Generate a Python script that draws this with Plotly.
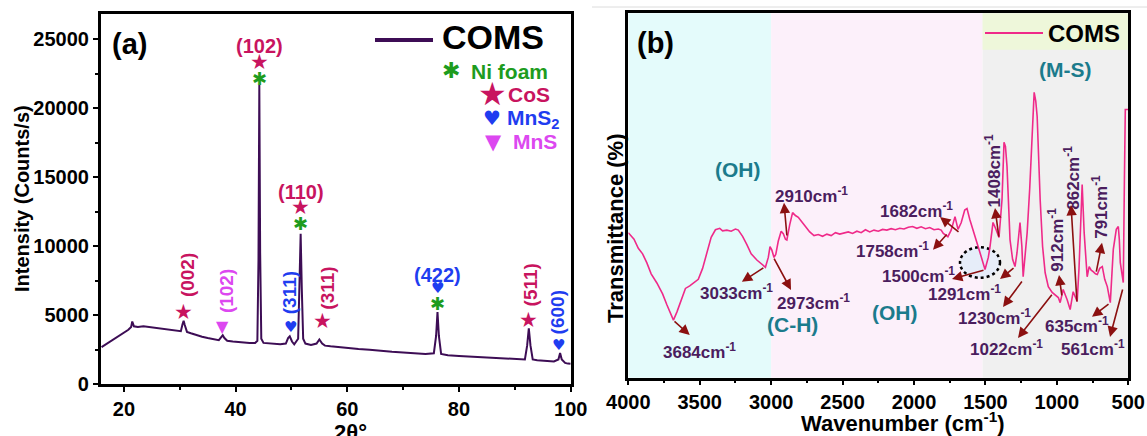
import plotly.graph_objects as go

# ---------------- data ----------------
xrd_two_theta = [16.0, 17.0, 18.0, 19.0, 20.0, 20.8, 21.3, 21.5, 21.8, 22.5, 23.5, 24.5, 25.5, 26.5,
                 27.5, 28.5, 29.5, 30.2, 30.5, 30.7, 30.9, 31.3, 32.0, 33.0, 34.0, 35.0, 36.0, 37.0,
                 37.5, 37.7, 38.0, 38.5, 39.5, 40.5, 41.5, 42.5, 43.5, 43.9, 44.1, 44.25, 44.4, 44.6,
                 45.0, 46.0, 47.0, 48.0, 49.0, 49.4, 49.7, 50.1, 50.5, 51.2, 51.45, 51.65, 51.85, 52.1,
                 52.5, 53.5, 54.5, 55.0, 55.5, 56.0, 57.0, 58.0, 60.0, 62.0, 64.0, 66.0, 68.0, 70.0,
                 72.0, 74.0, 75.5, 75.9, 76.15, 76.4, 76.8, 78.0, 80.0, 82.0, 84.0, 86.0, 88.0, 90.0,
                 91.8, 92.2, 92.5, 92.8, 93.2, 94.0, 95.0, 96.0, 97.0, 97.8, 98.1, 98.4, 99.0, 99.5, 100.0]
xrd_counts = [2700, 2950, 3200, 3450, 3700, 3950, 4150, 4550, 4200, 4150, 4200, 4150, 4100, 4050,
              3950, 3900, 3850, 3850, 4350, 4600, 4300, 3800, 3700, 3550, 3450, 3350, 3250, 3200,
              3450, 3550, 3350, 3150, 3100, 3050, 3050, 3000, 3000, 3150, 9000, 21700, 9500, 3300,
              3000, 2950, 2950, 2900, 2950, 3350, 3480, 3100, 2900, 3300, 7500, 10900, 7000, 3300,
              2950, 2850, 2950, 3250, 2950, 2800, 2750, 2700, 2650, 2550, 2500, 2400, 2350, 2300,
              2250, 2200, 2250, 3500, 5240, 3500, 2200, 2100, 2050, 2000, 1950, 1900, 1850, 1850,
              1800, 2800, 4060, 2800, 1800, 1750, 1700, 1700, 1650, 1800, 2270, 1800, 1550, 1500, 1480]

ftir_wavenumber = [4000, 3960, 3930, 3900, 3870, 3840, 3800, 3760, 3730, 3700, 3684, 3660, 3630, 3600,
                   3570, 3540, 3510, 3480, 3450, 3420, 3390, 3360, 3340, 3310, 3280, 3250, 3230, 3200,
                   3170, 3140, 3100, 3060, 3040, 3020, 3008, 2995, 2980, 2968, 2950, 2930, 2915, 2900,
                   2890, 2870, 2850, 2830, 2810, 2790, 2760, 2730, 2700, 2670, 2640, 2610, 2580, 2550,
                   2520, 2490, 2460, 2430, 2400, 2370, 2340, 2310, 2280, 2250, 2220, 2190, 2160, 2130,
                   2100, 2070, 2040, 2010, 1980, 1950, 1920, 1890, 1860, 1830, 1810, 1795, 1763, 1740,
                   1713, 1692, 1670, 1645, 1629, 1610, 1587, 1560, 1538, 1503, 1480, 1468, 1447, 1426,
                   1405, 1384, 1370, 1360, 1349, 1328, 1310, 1293, 1279, 1258, 1245, 1236, 1222, 1208,
                   1190, 1173, 1159, 1148, 1138, 1117, 1100, 1082, 1060, 1033, 1012, 990, 977, 956,
                   928, 907, 886, 870, 858, 845, 837, 823, 809, 798, 788, 774, 760, 746, 730, 717,
                   700, 682, 665, 647, 626, 605, 584, 570, 563, 556, 535, 527, 521, 507, 500]
ftir_transmittance = [39.8, 38.0, 35.5, 34.0, 31.5, 28.5, 26.0, 23.0, 20.0, 17.5, 15.8, 18.0, 21.5, 24.5,
                      25.2, 26.0, 27.0, 30.0, 34.5, 38.5, 40.6, 41.0, 40.3, 40.5, 40.2, 40.8, 40.5, 38.8,
                      36.5, 34.0, 32.3, 31.0, 30.3, 33.0, 36.0, 35.0, 33.0, 33.8, 37.5, 40.2, 39.5, 38.0,
                      37.8, 42.0, 45.3, 44.5, 44.0, 43.0, 41.5, 40.0, 39.0, 39.3, 38.8, 39.4, 39.0, 39.8,
                      39.4, 39.8, 40.0, 39.6, 40.2, 39.8, 40.6, 40.0, 40.5, 40.2, 40.7, 40.5, 40.9, 40.6,
                      41.0, 40.8, 41.3, 41.5, 41.0, 41.4, 40.9, 41.2, 40.6, 40.8, 40.5, 39.6, 38.7, 40.5,
                      44.2, 40.7, 42.5, 46.0, 46.4, 43.5, 40.7, 37.0, 34.3, 29.7, 33.0, 36.0, 42.6, 40.7,
                      38.5, 48.9, 64.6, 63.5, 58.0, 37.9, 32.5, 30.5, 34.3, 42.6, 36.0, 27.7, 33.5, 39.8,
                      52.0, 65.4, 78.3, 76.0, 71.7, 48.9, 36.0, 28.8, 25.0, 23.4, 22.8, 22.0, 20.6, 24.2,
                      21.4, 18.7, 23.6, 22.0, 20.9, 30.0, 39.8, 53.0, 39.8, 32.0, 27.7, 30.5, 29.5, 29.1, 28.5, 28.3,
                      30.0, 30.5, 27.0, 25.0, 20.6, 35.2, 40.7, 41.5, 38.0, 31.6, 26.1, 55.0, 73.6, 73.6, 73.6]

xrd_x_ticks = [20, 40, 60, 80, 100]
xrd_x_minor = [30, 50, 70, 90]
xrd_y_ticks = [0, 5000, 10000, 15000, 20000, 25000]
xrd_y_ticktext = ["0", "5000", "10000", "15000", "20000", "25000"]
xrd_y_minor = [2500, 7500, 12500, 17500, 22500]
ftir_x_ticks = [4000, 3500, 3000, 2500, 2000, 1500, 1000, 500]
ftir_x_ticktext = ["4000", "3500", "3000", "2500", "2000", "1500", "1000", "500"]
ftir_x_minor = [3750, 3250, 2750, 2250, 1750, 1250, 750]

ftir_peak_labels = ["3684", "3033", "2973", "2910", "1682", "1758", "1500", "1408",
                    "1291", "1230", "1022", "912", "862", "791", "635", "561"]

# ---------------- styling / layout ----------------
W, H = 1147, 436
FONT = "Liberation Sans, Arial, Helvetica, sans-serif"
SYMF = "DejaVu Sans, Liberation Sans, sans-serif"
XRD_C = "#3d0d55"
FTIR_C = "#ef2a89"
CRIMSON = "#c8145f"
GREEN = "#1e9c1e"
BLUE = "#1f3df0"
MAGENTA = "#dc48f0"
LABEL_C = "#4b1d5e"
TEAL = "#1b7b8c"
ARROW_C = "#8b1010"


def px(x):
    return x / W


def py(y):
    return 1 - y / H


fig = go.Figure()
fig.add_trace(go.Scatter(x=xrd_two_theta, y=xrd_counts, mode="lines",
                         line=dict(color=XRD_C, width=2), xaxis="x", yaxis="y",
                         showlegend=False, hoverinfo="skip"))
fig.add_trace(go.Scatter(x=ftir_wavenumber, y=ftir_transmittance, mode="lines",
                         line=dict(color=FTIR_C, width=1.6), xaxis="x2", yaxis="y2",
                         showlegend=False, hoverinfo="skip"))

axis_common = dict(showline=True, linewidth=2.5, linecolor="black", mirror=True,
                   showgrid=False, zeroline=False, ticks="outside", ticklen=5,
                   tickwidth=2, tickcolor="black", automargin=False,
                   tickfont=dict(family=FONT, size=20, color="black", weight="bold"))

fig.update_layout(
    width=W, height=H, margin=dict(l=0, r=0, t=0, b=0, autoexpand=False),
    paper_bgcolor="white", plot_bgcolor="white",
    xaxis=dict(domain=[px(100.7), px(570.7)], range=[15.85, 100], anchor="y",
               tickvals=xrd_x_ticks, ticktext=[str(v) for v in xrd_x_ticks],
               minor=dict(tickvals=xrd_x_minor, ticks="outside", ticklen=3, tickwidth=2,
                          tickcolor="black"),
               **axis_common),
    yaxis=dict(domain=[py(384.3), py(14)], range=[0, 26830], anchor="x",
               tickvals=xrd_y_ticks, ticktext=xrd_y_ticktext,
               minor=dict(tickvals=xrd_y_minor, ticks="outside", ticklen=3, tickwidth=2,
                          tickcolor="black"),
               **axis_common),
    xaxis2=dict(domain=[px(628.3), px(1128.3)], range=[4000, 500], anchor="y2",
                tickvals=ftir_x_ticks, ticktext=ftir_x_ticktext,
                minor=dict(tickvals=ftir_x_minor, ticks="outside", ticklen=3, tickwidth=2,
                           tickcolor="black"),
                **axis_common),
    yaxis2=dict(domain=[py(377.7), py(13.3)], range=[0, 100], anchor="x2",
                showline=True, linewidth=2.5, linecolor="black", mirror=True,
                showgrid=False, zeroline=False, ticks="", showticklabels=False,
                automargin=False),
)

shapes = [
    # background bands of the FTIR panel
    dict(type="rect", xref="x2", yref="y2 domain", x0=4000, x1=3000, y0=0, y1=1,
         fillcolor="#e4fbfb", line=dict(width=0), layer="below"),
    dict(type="rect", xref="x2", yref="y2 domain", x0=3000, x1=1520, y0=0, y1=1,
         fillcolor="#fcf0fa", line=dict(width=0), layer="below"),
    dict(type="rect", xref="x2", yref="y2 domain", x0=1520, x1=500, y0=0, y1=1,
         fillcolor="#f0f0f0", line=dict(width=0), layer="below"),
    dict(type="rect", xref="x2", yref="y2 domain", x0=1520, x1=500, y0=0.9, y1=1,
         fillcolor="#eef7da", line=dict(width=0), layer="below"),
    # dotted ellipse around 1500 cm-1
    dict(type="circle", xref="x2", yref="y2", x0=1678, x1=1398, y0=27.4, y1=35.8,
         fillcolor="#e6edf9", line=dict(color="black", width=2.5, dash="dot"), layer="below"),
    # legend sample lines
    dict(type="line", xref="paper", yref="paper", x0=px(375), x1=px(433), y0=py(40), y1=py(40),
         line=dict(color=XRD_C, width=4)),
    dict(type="line", xref="paper", yref="paper", x0=px(985), x1=px(1043), y0=py(33), y1=py(33),
         line=dict(color=FTIR_C, width=2)),
    # faint page edge line above panel (b)
    dict(type="line", xref="paper", yref="paper", x0=px(592), x1=1, y0=py(7), y1=py(7),
         line=dict(color="#dcdcdc", width=1)),
]
fig.update_layout(shapes=shapes)

ann = []


def t(x, y, s, size, color="black", xref="paper", yref="paper", angle=0,
      xanchor="center", yanchor="middle", family=FONT, bold=True):
    ann.append(dict(x=x, y=y, xref=xref, yref=yref, text=("<b>%s</b>" % s) if bold else s,
                    showarrow=False, textangle=angle, xanchor=xanchor, yanchor=yanchor,
                    font=dict(family=family, size=size, color=color)))


# panel letters
t(px(129), py(44), "(a)", 29)
t(px(655), py(43.5), "(b)", 29)

# axis titles
t(px(22), py(199), "Intensity (Counts/s)", 20, angle=-90)
t(px(350), py(432), "2θ°", 22)
t(px(615), py(228), "Transmittance (%)", 22, angle=-90)
t(px(903), py(422), "Wavenumber (cm<sup>-1</sup>)", 22)

# legend (a)
t(px(440), py(37), "COMS", 34, xanchor="left")
t(px(451), py(71), "✱", 22, GREEN, family=SYMF)
t(px(469), py(71.7), "Ni foam", 21, GREEN, xanchor="left")
t(px(492), py(94), "★", 32, CRIMSON, family=SYMF)
t(px(506), py(95), "CoS", 21, CRIMSON, xanchor="left")
t(px(492), py(118.3), "♥", 20, BLUE, family=SYMF)
t(px(505), py(119), "MnS<sub>2</sub>", 21, BLUE, xanchor="left")
t(px(493.3), py(141.7), "▼", 21, MAGENTA, family=SYMF)
t(px(511), py(142), "MnS", 21, MAGENTA, xanchor="left")

# legend (b)
t(px(1046), py(33), "COMS", 24, xanchor="left")

# XRD peak annotations
X, Y = "x", "y"
SS, AS, HS, TS = 21, 18, 15, 16   # glyph sizes: star, asterisk, heart, triangle
t(44.3, 24500, "(102)", 20, CRIMSON, X, Y)
t(44.3, 23380, "★", SS, CRIMSON, X, Y, family=SYMF)
t(44.3, 22170, "✱", AS, GREEN, X, Y, family=SYMF)
t(51.7, 13950, "(110)", 20, CRIMSON, X, Y)
t(51.7, 12830, "★", SS, CRIMSON, X, Y, family=SYMF)
t(51.7, 11670, "✱", AS, GREEN, X, Y, family=SYMF)
t(76.1, 7900, "(422)", 20, BLUE, X, Y)
t(76.1, 6960, "♥", HS, BLUE, X, Y, family=SYMF)
t(76.1, 5870, "✱", AS, GREEN, X, Y, family=SYMF)
t(31.5, 7920, "(002)", 19, CRIMSON, X, Y, angle=-90)
t(30.7, 5260, "★", SS, CRIMSON, X, Y, family=SYMF)
t(38.3, 6760, "(102)", 19, MAGENTA, X, Y, angle=-90)
t(37.6, 4170, "▼", TS, MAGENTA, X, Y, family=SYMF)
t(49.8, 6620, "(311)", 19, BLUE, X, Y, angle=-90)
t(49.8, 4130, "♥", HS, BLUE, X, Y, family=SYMF)
t(56.5, 6980, "(311)", 19, CRIMSON, X, Y, angle=-90)
t(55.6, 4610, "★", SS, CRIMSON, X, Y, family=SYMF)
t(92.8, 7200, "(511)", 19, CRIMSON, X, Y, angle=-90)
t(92.4, 4660, "★", SS, CRIMSON, X, Y, family=SYMF)
t(97.8, 5240, "(600)", 19, BLUE, X, Y, angle=-90)
t(97.9, 2850, "♥", HS, BLUE, X, Y, family=SYMF)

# FTIR group labels
X2, Y2 = "x2", "y2"
t(3230, 57, "(OH)", 21, TEAL, X2, Y2)
t(2851, 14.5, "(C-H)", 21, TEAL, X2, Y2)
t(2134, 18, "(OH)", 21, TEAL, X2, Y2)
t(943, 84.5, "(M-S)", 21, TEAL, X2, Y2)

# FTIR peak labels: (label, x, y, angle)
label_pos = {
    "3684": (3500, 7.3, 0), "3033": (3243, 23.5, 0), "2973": (2704, 20.8, 0),
    "2910": (2718, 50.1, 0), "1682": (1983, 46.0, 0), "1758": (2150, 35.0, 0),
    "1500": (1972, 28.2, 0), "1408": (1445, 56.7, -90), "1291": (1650, 23.2, 0),
    "1230": (1440, 16.7, 0), "1022": (1353, 8.1, 0), "912": (1008, 37.8, -90),
    "862": (896, 54.8, -90), "791": (698, 46.9, -90), "635": (856, 14.5, 0),
    "561": (750, 8.1, 0),
}
# arrows: tail on the curve -> head near the label
arrow_pos = {
    "3684": ((3687, 15.8), (3570, 11.7)), "3033": ((3044, 30.4), (3205, 26.3)),
    "2973": ((2985, 33.1), (2861, 24.1)), "2910": ((2889, 38.6), (2910, 48.0)),
    "1682": ((1678, 39.7), (1818, 44.1)), "1758": ((1762, 39.7), (1867, 35.1)),
    "1500": ((1503, 29.6), (1734, 27.1)), "1408": ((1405, 38.3), (1433, 46.6)),
    "1291": ((1293, 30.4), (1398, 27.1)), "1230": ((1237, 26.8), (1377, 19.4)),
    "1022": ((1027, 23.2), (1272, 10.9)), "912": ((964, 22.2), (985, 28.2)),
    "862": ((859, 20.5), (901, 47.4)), "791": ((726, 28.7), (684, 37.0)),
    "635": ((628, 20.5), (754, 16.7)), "561": ((537, 24.6), (628, 11.2)),
}
for lab in ftir_peak_labels:
    lx, ly, ang = label_pos[lab]
    t(lx, ly, lab + "cm<sup>-1</sup>", 17, LABEL_C, X2, Y2, angle=ang)
    (tx, ty), (hx, hy) = arrow_pos[lab]
    ann.append(dict(x=hx, y=hy, ax=tx, ay=ty, xref=X2, yref=Y2, axref=X2, ayref=Y2,
                    text="", showarrow=True, arrowhead=2, arrowsize=1.3, arrowwidth=1.6,
                    arrowcolor=ARROW_C, standoff=0, startstandoff=0))

fig.update_layout(annotations=ann)
fig.write_html("out.html", config={"displayModeBar": False},
               post_script="document.body.style.margin='0';document.body.style.overflow='hidden';")
